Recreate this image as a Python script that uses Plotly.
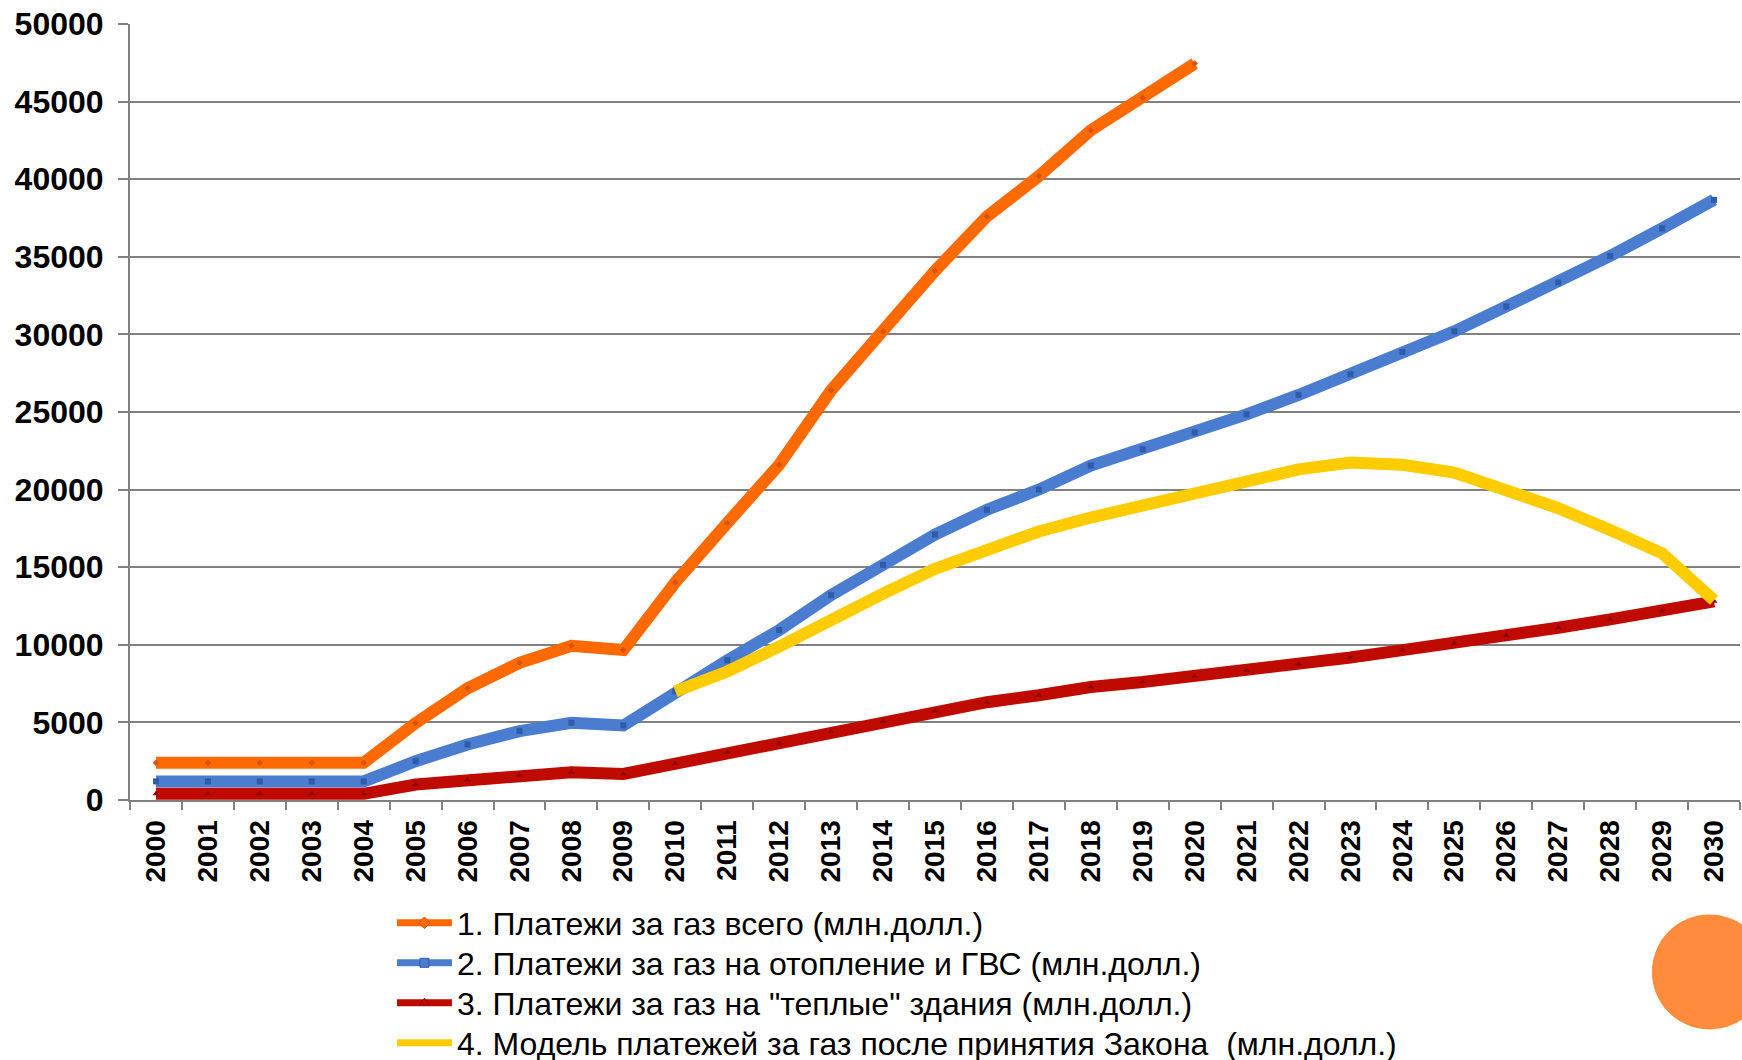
import plotly.graph_objects as go

years = [str(y) for y in range(2000, 2031)]

total_gas = [2400, 2400, 2400, 2400, 2400, 4960, 7200, 8840, 9940, 9660,
             14030, 17850, 21600, 26400, 30200, 34100, 37600, 40200, 43150, 45250,
             47450] + [None] * 10

heating_gas = [1200, 1200, 1200, 1200, 1200, 2500, 3580, 4440, 4980, 4800,
               7000, 9000, 10950, 13200, 15150, 17100, 18700, 20000, 21550, 22600,
               23680, 24850, 26100, 27430, 28870, 30200, 31800, 33350, 35050, 36830,
               38670]

warm_buildings = [400, 400, 400, 400, 400, 1000, 1290, 1600, 1790, 1680,
                  2350, 3100, 3660, 4400, 5080, 5730, 6300, 6750, 7280, 7600,
                  7970, 8360, 8750, 9180, 9660, 10090, 10600, 11100, 11640, 12180,
                  12800]

law_model = [None] * 10 + [7000, 8280, 9880, 11700, 13300, 14900, 16200, 17300, 18200, 18950,
                           19800, 20500, 21300, 21750, 21600, 21100, 20050, 18800, 17400, 15900,
                           12870]

names = [
    "1. Платежи за газ всего (млн.долл.)",
    "2. Платежи за газ на отопление и ГВС (млн.долл.)",
    "3. Платежи за газ на \"теплые\" здания (млн.долл.)",
    "4. Модель платежей за газ после принятия Закона  (млн.долл.)",
]

y_ticks = list(range(0, 50001, 5000))

FONT = "Liberation Sans, Arial, Helvetica, sans-serif"

fig = go.Figure()

series = [
    (total_gas, names[0], "#FF6A00", dict(symbol="diamond", size=5, color="#D9530A")),
    (heating_gas, names[1], "#4A7CD0", dict(symbol="square", size=6, color="#2F5BA8")),
    (warm_buildings, names[2], "#BF0A00", dict(symbol="triangle-up", size=6, color="#8F0600")),
    (law_model, names[3], "#FFCC00", None),
]

legend_ids = ["legend", "legend2", "legend3", "legend4"]

# data traces (hidden from legend)
for i, (vals, nm, col, mk) in enumerate(series):
    fig.add_trace(go.Scatter(
        x=years, y=vals, name=nm, legendgroup=str(i), showlegend=False,
        mode="lines+markers" if mk else "lines",
        line=dict(color=col, width=12),
        marker=mk,
        connectgaps=False,
    ))

# legend entries with thinner line sample, one legend box per row
for i, (vals, nm, col, mk) in enumerate(series):
    lm = None
    if mk:
        lm = dict(symbol=mk["symbol"], size=9, color=col, line=dict(width=1, color=mk["color"]))
    fig.add_trace(go.Scatter(
        x=[None], y=[None], name=nm, legendgroup=str(i), showlegend=True,
        legend=legend_ids[i],
        mode="lines+markers" if mk else "lines",
        line=dict(color=col, width=7),
        marker=lm,
    ))

fig.add_shape(type="circle", xref="paper", yref="paper",
              x0=0.9453, x1=1.0168, y0=-0.2957, y1=-0.1475,
              fillcolor="#FF8B3D", line=dict(width=0), layer="above")

row_centers_px = [923, 963, 1003, 1043]
legend_layout = {}
for lid, cy in zip(legend_ids, row_centers_px):
    legend_layout[lid] = dict(
        orientation="v", xref="container", yref="container",
        x=0.225, y=(1060 - cy) / 1060, xanchor="left", yanchor="middle",
        font=dict(size=32, family=FONT, color="black"),
        itemwidth=55, tracegroupgap=0, bgcolor="rgba(0,0,0,0)",
    )

fig.update_layout(
    width=1742, height=1060,
    margin=dict(l=130, r=2, t=24, b=260, autoexpand=False),
    paper_bgcolor="white", plot_bgcolor="white",
    font=dict(family=FONT, color="black"),
    showlegend=True,
    xaxis=dict(
        type="category", range=[-0.5, 30.5], tickangle=-90, tickson="boundaries",
        ticks="outside", ticklen=8, tickwidth=2, tickcolor="#808080",
        showline=True, linecolor="#808080", linewidth=2,
        showgrid=False, automargin=False,
        tickfont=dict(size=28, family=FONT, color="black", weight="bold"),
        ticklabelstandoff=7,
    ),
    yaxis=dict(
        range=[0, 50000], tickvals=y_ticks, tickformat="d",
        ticks="outside", ticklen=10, tickwidth=2, tickcolor="#808080",
        showline=True, linecolor="#808080", linewidth=2,
        showgrid=True, gridcolor="#808080", gridwidth=2, zeroline=False,
        automargin=False,
        tickfont=dict(size=32, family=FONT, color="black", weight="bold"),
        ticklabelstandoff=8,
    ),
    **legend_layout,
)

fig.write_html("out.html", config={"displayModeBar": False},
               post_script="document.body.style.margin='0';document.body.style.overflow='hidden';")
